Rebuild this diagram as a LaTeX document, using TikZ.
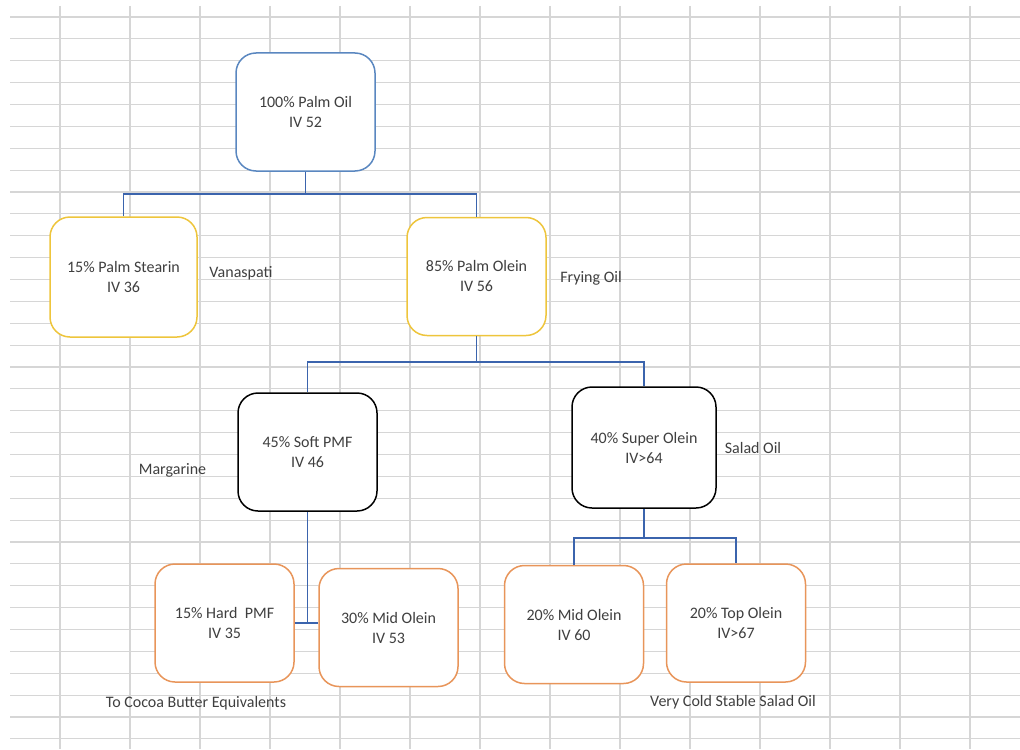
\documentclass[tikz,border=0pt]{standalone}
\usepackage{fontspec}
\setmainfont{Carlito}
\usetikzlibrary{positioning,calc}
\definecolor{pblue}{HTML}{5A87C0}
\definecolor{plink}{HTML}{3B64AD}
\definecolor{pyellow}{HTML}{EEC53C}
\definecolor{porange}{HTML}{E8955A}
\definecolor{pgrid}{HTML}{D6D6D6}
\definecolor{ptext}{HTML}{3F3F3F}

\begin{document}
\begin{tikzpicture}[x=0.5pt, y=-0.5pt, font=\fontsize{8}{10}\selectfont, text=ptext,
  box/.style={draw=#1, line width=0.75pt, rounded corners=10pt, fill=white, minimum width=69.5pt, minimum height=59pt, align=center, inner sep=1pt},
  link/.style={draw=plink, line width=0.9pt},
  note/.style={inner sep=0pt},
  gridline/.style={draw=pgrid, line width=0.6pt}]
  \useasboundingbox (0,0) rectangle (1020,749);
  \foreach \gx in {60,130,...,970} \draw[gridline] (\gx,6) -- (\gx,749);
  \foreach \k in {0,...,33} \draw[gridline] (10,17+21.875*\k) -- (1020,17+21.875*\k);
  \node[box=pblue] (palmoil) at (305.5,112) {100\% Palm Oil\\IV 52};
  \node[box=pyellow, minimum width=73.5pt, minimum height=60pt] (stearin) at (123.5,277) {15\% Palm Stearin\\IV 36};
  \node[box=pyellow] (olein) at (476.5,276.5) {85\% Palm Olein\\IV 56};
  \node[box=black] (softpmf) at (307.5,452) {45\% Soft PMF\\IV 46};
  \node[box=black, minimum width=72pt, minimum height=60.5pt] (superolein) at (644,447.5) {40\% Super Olein\\IV>64};
  \node[box=porange] (hardpmf) at (224.5,623) {15\% Hard~~PMF\\IV 35};
  \node[box=porange] (midolein) at (388.5,627.5) {30\% Mid Olein\\IV 53};
  \node[box=porange] (midoleinb) at (574,624.5) {20\% Mid Olein\\IV 60};
  \node[box=porange] (topolein) at (736,623) {20\% Top Olein\\IV>67};
  \node[note] (vanaspati) at (241,273) {Vanaspati};
  \node[note] (frying) at (591,278) {Frying Oil};
  \node[note] (margarine) at (172.5,470) {Margarine};
  \node[note] (salad) at (753,448) {Salad Oil};
  \node[note] (cocoa) at (196,703) {To Cocoa Butter Equivalents};
  \node[note] (coldsalad) at (733,702) {Very Cold Stable Salad Oil};
  \coordinate (split1) at ($(palmoil.south)+(0,22)$);
  \coordinate (split2) at ($(olein.south)+(0,26)$);
  \coordinate (split3) at ($(superolein.south)+(0,29)$);
  \draw[link] (palmoil.south) -- (split1);
  \draw[link] (stearin.north) |- (split1) -| (olein.north);
  \draw[link] (olein.south) -- (split2);
  \draw[link] (softpmf.north) |- (split2) -| (superolein.north);
  \draw[link] (superolein.south) -- (split3);
  \draw[link] (midoleinb.north) |- (split3) -| (topolein.north);
  \draw[link] (softpmf.south) -- (softpmf.south |- hardpmf.east);
  \draw[link] (hardpmf.east) -- (midolein.west |- hardpmf.east);
\end{tikzpicture}
\end{document}
